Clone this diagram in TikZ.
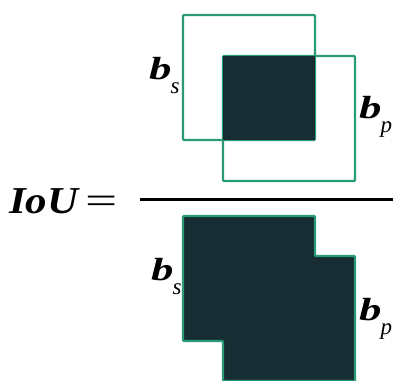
\documentclass[tikz,border=0pt]{standalone}
\usepackage{graphicx}
\usepackage{fontspec}
\setmainfont{Liberation Serif}
\definecolor{boxgreen}{HTML}{2A9B77}
\definecolor{boxfill}{HTML}{172D33}
\tikzset{
  box/.style={draw=boxgreen, line width=2.4pt, rounded corners=1pt},
  overlap/.style={fill=boxfill},
  lbl/.style={inner sep=0pt, anchor=base west, font=\fontsize{32}{32}\selectfont\bfseries\itshape},
}
\newcommand{\boxlabel}[2]{\scalebox{1.4}[1]{#1}\hspace{-1pt}\raisebox{-14pt}{\fontsize{23}{23}\selectfont\mdseries #2}}

\begin{document}
\begin{tikzpicture}[x=1pt, y=-1pt]
\useasboundingbox (0,0) rectangle (393,380);
\clip (0,0) rectangle (393,380);
% numerator: the two boxes and what they share
\draw [box] (183,15) rectangle (315,140);
\draw [box] (223,56) rectangle (355,181);
\fill [overlap] (223,56) rectangle (315,140);
\node [lbl] (bs top) at (149,79) {\boxlabel{b}{s}};
\node [lbl] (bp top) at (359,118) {\boxlabel{b}{p}};
% fraction bar
\node [lbl, font=\fontsize{38}{38}\selectfont\bfseries\itshape] (iou) at (9,213)
  {\scalebox{1.13}[1]{IoU}\hspace{7pt}\scalebox{1.5}[1]{\mdseries\upshape =}};
\coordinate (bar l) at (140,199);
\coordinate (bar r) at (393,199);
\draw [line width=3pt] (bar l) -- (bar r);
% denominator: the union
\draw [box, overlap] (183,216) -- (315,216) -- (315,256) -- (355,256) -- (355,381) -- (223,381) -- (223,341) -- (183,341) -- cycle;
\node [lbl] (bs bot) at (151,280) {\boxlabel{b}{s}};
\node [lbl] (bp bot) at (359,320) {\boxlabel{b}{p}};
\end{tikzpicture}
\end{document}
